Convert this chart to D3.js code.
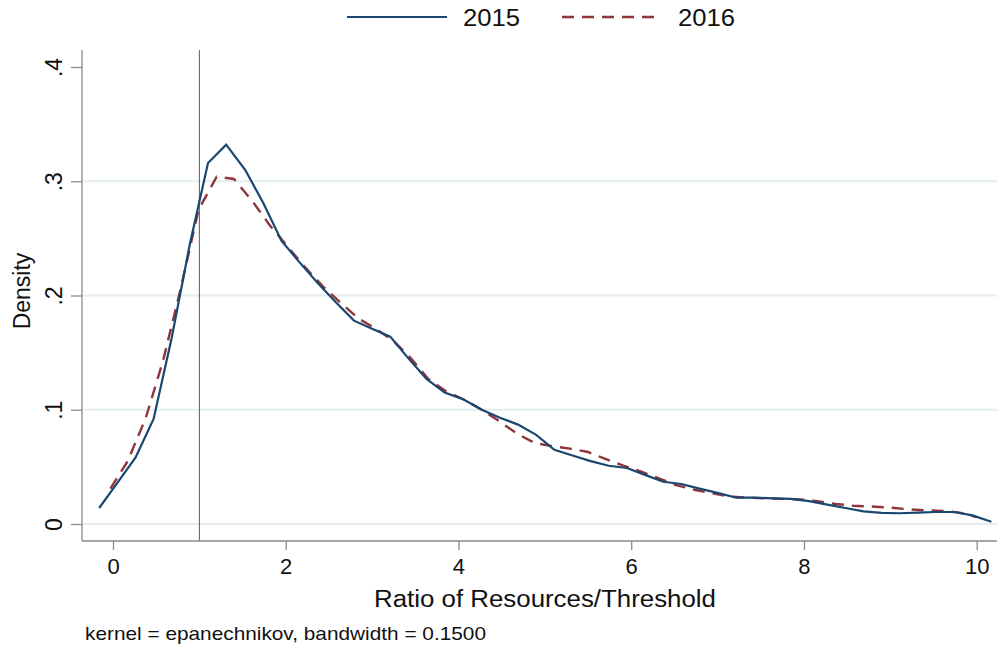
<!DOCTYPE html>
<html>
<head>
<meta charset="utf-8">
<script src="https://cdn.jsdelivr.net/npm/d3@7"></script>
<style>
  html, body { margin: 0; padding: 0; background: #fff; }
  svg { display: block; font-family: "Liberation Sans", Arial, Helvetica, sans-serif; }
</style>
</head>
<body>
<svg id="chart" width="997" height="650"></svg>
<script>
// ---- data ----
const x2015 = [-0.16, 0.05, 0.26, 0.47, 0.68, 0.89, 1.10, 1.31, 1.53, 1.74,
               1.95, 2.16, 2.37, 2.58, 2.79, 3.00, 3.21, 3.42, 3.63, 3.84,
               4.06, 4.27, 4.48, 4.69, 4.90, 5.11, 5.32, 5.53, 5.74, 5.95,
               6.16, 6.37, 6.58, 6.79, 7.01, 7.22, 7.43, 7.64, 7.85, 8.06,
               8.27, 8.48, 8.69, 8.90, 9.11, 9.32, 9.53, 9.74, 9.95, 10.17];
const y2015 = [0.014, 0.036, 0.058, 0.092, 0.163, 0.245, 0.316, 0.332, 0.310, 0.281,
               0.248, 0.229, 0.211, 0.194, 0.178, 0.171, 0.164, 0.145, 0.127, 0.115,
               0.109, 0.100, 0.093, 0.087, 0.078, 0.065, 0.060, 0.055, 0.051, 0.049,
               0.043, 0.037, 0.035, 0.031, 0.027, 0.023, 0.023, 0.0225, 0.022, 0.020,
               0.017, 0.014, 0.011, 0.0097, 0.0094, 0.010, 0.0105, 0.0105, 0.0075, 0.002];
const x2016 = [-0.03, 0.17, 0.38, 0.58, 0.79, 0.99, 1.20, 1.40, 1.61, 1.81,
               2.02, 2.22, 2.43, 2.63, 2.84, 3.04, 3.25, 3.45, 3.65, 3.86,
               4.06, 4.27, 4.47, 4.68, 4.88, 5.09, 5.29, 5.50, 5.70, 5.91,
               6.11, 6.32, 6.52, 6.73, 6.93, 7.14, 7.34, 7.55, 7.75, 7.96,
               8.16, 8.37, 8.57, 8.78, 8.98, 9.19, 9.39, 9.60, 9.80, 10.00];
const y2016 = [0.031, 0.055, 0.093, 0.143, 0.208, 0.275, 0.304, 0.302, 0.283, 0.262,
               0.243, 0.225, 0.208, 0.194, 0.180, 0.171, 0.160, 0.145, 0.127, 0.116,
               0.109, 0.100, 0.090, 0.079, 0.071, 0.068, 0.066, 0.063, 0.057, 0.051,
               0.046, 0.040, 0.034, 0.030, 0.027, 0.024, 0.023, 0.0225, 0.022, 0.0215,
               0.020, 0.0175, 0.016, 0.0153, 0.0145, 0.013, 0.012, 0.0115, 0.010, 0.006];
const seriesNames = ["2015", "2016"];
const xTicks = [0, 2, 4, 6, 8, 10];
const yTicks = [0, 0.1, 0.2, 0.3, 0.4];
const yTickLabels = ["0", ".1", ".2", ".3", ".4"];
const yGrid = [0, 0.1, 0.2, 0.3];
const thresholdX = 1;
const xTitle = "Ratio of Resources/Threshold";
const yTitle = "Density";
const note = "kernel = epanechnikov, bandwidth = 0.1500";

// ---- layout ----
const svg = d3.select("#chart");
const plotLeft = 82, plotRight = 997, plotTop = 50, plotBottom = 541;
const x = d3.scaleLinear().domain([0, 10]).range([113, 976.7]);
const y = d3.scaleLinear().domain([0, 0.4]).range([524, 67]);
const axisColor = "#8a8a8a";
const blue = "#1a476f", red = "#90353b";

// gridlines
svg.append("g").selectAll("line").data(yGrid).join("line")
  .attr("x1", plotLeft).attr("x2", plotRight)
  .attr("y1", d => y(d)).attr("y2", d => y(d))
  .attr("stroke", "#e4eef1").attr("stroke-width", 1.8);

// threshold vertical line
svg.append("line")
  .attr("x1", x(thresholdX)).attr("x2", x(thresholdX))
  .attr("y1", plotTop).attr("y2", plotBottom)
  .attr("stroke", "#5a5a5a").attr("stroke-width", 1);

// curves
const line = d3.line().x(d => x(d[0])).y(d => y(d[1]));
svg.append("path").datum(d3.zip(x2016, y2016))
  .attr("d", line).attr("fill", "none")
  .attr("stroke", red).attr("stroke-width", 2.4).attr("stroke-dasharray", "12,8");
svg.append("path").datum(d3.zip(x2015, y2015))
  .attr("d", line).attr("fill", "none")
  .attr("stroke", blue).attr("stroke-width", 2.2);

// axis lines
svg.append("line").attr("x1", plotLeft).attr("x2", plotLeft)
  .attr("y1", plotTop).attr("y2", plotBottom)
  .attr("stroke", axisColor).attr("stroke-width", 1.3);
svg.append("line").attr("x1", plotLeft).attr("x2", plotRight)
  .attr("y1", plotBottom).attr("y2", plotBottom)
  .attr("stroke", axisColor).attr("stroke-width", 1.3);

// x axis
const gx = svg.append("g").attr("transform", `translate(0,${plotBottom})`)
  .call(d3.axisBottom(x).tickValues(xTicks).tickSize(9).tickPadding(0).tickFormat(d3.format("d")));
gx.select(".domain").remove();
gx.selectAll(".tick line").attr("stroke", axisColor).attr("stroke-width", 1.3);
gx.selectAll(".tick text").attr("font-size", 22).attr("fill", "#111")
  .attr("font-family", "Liberation Sans, Arial, sans-serif")
  .attr("dy", null).attr("y", 33);

// y axis
const gy = svg.append("g").attr("transform", `translate(${plotLeft},0)`)
  .call(d3.axisLeft(y).tickValues(yTicks).tickSize(11).tickPadding(0)
    .tickFormat((d, i) => yTickLabels[i]));
gy.select(".domain").remove();
gy.selectAll(".tick line").attr("stroke", axisColor).attr("stroke-width", 1.3);
gy.selectAll(".tick text")
  .attr("font-size", 23).attr("fill", "#111")
  .attr("font-family", "Liberation Sans, Arial, sans-serif")
  .attr("x", null).attr("dy", null)
  .attr("text-anchor", "middle")
  .attr("transform", "translate(-20,0) rotate(-90)");

// axis titles
svg.append("text").attr("x", 545).attr("y", 607)
  .attr("text-anchor", "middle").attr("font-size", 23).attr("fill", "#111")
  .attr("textLength", 342).attr("lengthAdjust", "spacingAndGlyphs")
  .text(xTitle);
svg.append("text").attr("transform", "translate(30,291) rotate(-90)")
  .attr("text-anchor", "middle").attr("font-size", 23).attr("fill", "#111")
  .text(yTitle);

// note
svg.append("text").attr("x", 85).attr("y", 640)
  .attr("font-size", 19).attr("fill", "#111")
  .attr("textLength", 401).attr("lengthAdjust", "spacingAndGlyphs")
  .text(note);

// legend
const legendItems = [
  {name: seriesNames[0], color: blue, dash: null, w: 2.2, x0: 347, tx: 463},
  {name: seriesNames[1], color: red, dash: "12,8", w: 2.4, x0: 562, tx: 678}
];
const lg = svg.append("g");
legendItems.forEach(it => {
  lg.append("line").attr("x1", it.x0).attr("x2", it.x0 + 100)
    .attr("y1", 17).attr("y2", 17)
    .attr("stroke", it.color).attr("stroke-width", it.w)
    .attr("stroke-dasharray", it.dash);
  lg.append("text").attr("x", it.tx).attr("y", 26)
    .attr("font-size", 24).attr("fill", "#111")
    .attr("textLength", 57).attr("lengthAdjust", "spacingAndGlyphs")
    .text(it.name);
});
</script>
</body>
</html>
